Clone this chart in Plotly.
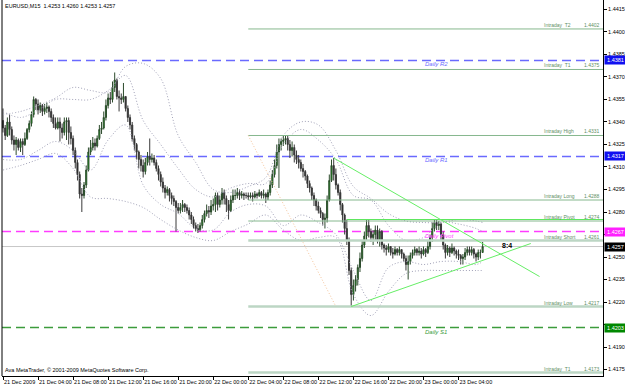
import plotly.graph_objects as go
import pandas as pd

# ---------------- data ----------------
title_text = "EURUSD,M15  1.4253 1.4260 1.4253 1.4257"
copyright_text = "Ava MetaTrader, © 2001-2009 MetaQuotes Software Corp."

first_bar_time = "2009-12-21 00:00"
first_open = 1.4341

closes = [
    1.4336, 1.4331, 1.4340, 1.4335, 1.4328, 1.4325, 1.4328, 1.4323, 1.4327, 1.4325,
    1.4329, 1.4335, 1.4339, 1.4345, 1.4355, 1.4352, 1.4348, 1.4351, 1.4347, 1.4349,
    1.4350, 1.4347, 1.4343, 1.4339, 1.4336, 1.4340, 1.4336, 1.4333, 1.4340, 1.4341,
    1.4333, 1.4329, 1.4321, 1.4313, 1.4305, 1.4292, 1.4291, 1.4298, 1.4308, 1.4320,
    1.4323, 1.4326, 1.4324, 1.4329, 1.4335, 1.4336, 1.4343, 1.4351, 1.4356, 1.4355,
    1.4363, 1.4368, 1.4357, 1.4356, 1.4355, 1.4357, 1.4349, 1.4343, 1.4338, 1.4329,
    1.4325, 1.4320, 1.4315, 1.4311, 1.4307, 1.4313, 1.4317, 1.4315, 1.4316, 1.4313,
    1.4309, 1.4305, 1.4300, 1.4296, 1.4293, 1.4295, 1.4291, 1.4289, 1.4287, 1.4283,
    1.4281, 1.4283, 1.4285, 1.4283, 1.4281, 1.4278, 1.4275, 1.4271, 1.4269, 1.4268,
    1.4271, 1.4275, 1.4279, 1.4281, 1.4280, 1.4284, 1.4285, 1.4291, 1.4285, 1.4288,
    1.4293, 1.4289, 1.4285, 1.4281, 1.4288, 1.4291, 1.4291, 1.4293, 1.4291, 1.4292,
    1.4291, 1.4291, 1.4290, 1.4291, 1.4290, 1.4292, 1.4291, 1.4293, 1.4291, 1.4292,
    1.4290, 1.4293, 1.4298, 1.4305, 1.4311, 1.4320, 1.4325, 1.4327, 1.4328, 1.4329,
    1.4325, 1.4321, 1.4323, 1.4318, 1.4315, 1.4313, 1.4309, 1.4307, 1.4304, 1.4299,
    1.4296, 1.4291, 1.4288, 1.4284, 1.4281, 1.4279, 1.4275, 1.4276, 1.4288, 1.4301,
    1.4311, 1.4305, 1.4298, 1.4293, 1.4285, 1.4278, 1.4269, 1.4261, 1.4241, 1.4225,
    1.4231, 1.4235, 1.4243, 1.4249, 1.4258, 1.4264, 1.4271, 1.4267, 1.4263, 1.4265,
    1.4268, 1.4261, 1.4267, 1.4258, 1.4256, 1.4255, 1.4257, 1.4253, 1.4252, 1.4255,
    1.4253, 1.4255, 1.4252, 1.4249, 1.4245, 1.4247, 1.4251, 1.4253, 1.4255, 1.4253,
    1.4254, 1.4252, 1.4255, 1.4253, 1.4257, 1.4263, 1.4269, 1.4273, 1.4271, 1.4272,
    1.4265, 1.4258, 1.4253, 1.4256, 1.4253, 1.4256, 1.4254, 1.4252, 1.4251, 1.4249,
    1.4250, 1.4253, 1.4255, 1.4253, 1.4255, 1.4252, 1.4250, 1.4253, 1.4253, 1.4257,
]

highs = [
    1.4349, 1.4338, 1.4343, 1.4345, 1.4337, 1.4331, 1.4330, 1.4329, 1.4329, 1.4329,
    1.4333, 1.4336, 1.4341, 1.4347, 1.4357, 1.4356, 1.4355, 1.4353, 1.4352, 1.4352,
    1.4353, 1.4351, 1.4349, 1.4345, 1.4343, 1.4343, 1.4343, 1.4339, 1.4343, 1.4343,
    1.4343, 1.4337, 1.4331, 1.4323, 1.4315, 1.4307, 1.4296, 1.4300, 1.4311, 1.4323,
    1.4328, 1.4330, 1.4329, 1.4331, 1.4338, 1.4340, 1.4347, 1.4355, 1.4359, 1.4360,
    1.4367, 1.4373, 1.4369, 1.4361, 1.4359, 1.4366, 1.4357, 1.4351, 1.4345, 1.4340,
    1.4331, 1.4326, 1.4321, 1.4318, 1.4315, 1.4316, 1.4320, 1.4329, 1.4319, 1.4318,
    1.4315, 1.4311, 1.4307, 1.4303, 1.4298, 1.4297, 1.4296, 1.4293, 1.4291, 1.4288,
    1.4286, 1.4286, 1.4288, 1.4286, 1.4285, 1.4283, 1.4280, 1.4277, 1.4273, 1.4272,
    1.4273, 1.4278, 1.4281, 1.4285, 1.4284, 1.4288, 1.4289, 1.4293, 1.4293, 1.4291,
    1.4296, 1.4295, 1.4291, 1.4288, 1.4291, 1.4295, 1.4295, 1.4296, 1.4295, 1.4294,
    1.4293, 1.4293, 1.4293, 1.4293, 1.4293, 1.4294, 1.4293, 1.4295, 1.4294, 1.4295,
    1.4293, 1.4295, 1.4301, 1.4308, 1.4315, 1.4325, 1.4329, 1.4329, 1.4331, 1.4331,
    1.4331, 1.4328, 1.4327, 1.4325, 1.4321, 1.4318, 1.4315, 1.4312, 1.4308, 1.4305,
    1.4301, 1.4297, 1.4293, 1.4289, 1.4287, 1.4283, 1.4280, 1.4279, 1.4291, 1.4305,
    1.4315, 1.4316, 1.4309, 1.4299, 1.4295, 1.4286, 1.4279, 1.4275, 1.4263, 1.4243,
    1.4235, 1.4238, 1.4245, 1.4253, 1.4261, 1.4267, 1.4275, 1.4275, 1.4269, 1.4268,
    1.4271, 1.4271, 1.4269, 1.4268, 1.4259, 1.4258, 1.4259, 1.4257, 1.4256, 1.4257,
    1.4256, 1.4257, 1.4255, 1.4253, 1.4251, 1.4251, 1.4253, 1.4255, 1.4257, 1.4256,
    1.4257, 1.4256, 1.4257, 1.4256, 1.4261, 1.4265, 1.4273, 1.4275, 1.4275, 1.4274,
    1.4273, 1.4267, 1.4259, 1.4258, 1.4257, 1.4259, 1.4257, 1.4255, 1.4255, 1.4252,
    1.4252, 1.4256, 1.4257, 1.4257, 1.4257, 1.4256, 1.4253, 1.4255, 1.4255, 1.4260,
]

lows = [
    1.4333, 1.4328, 1.4330, 1.4331, 1.4325, 1.4321, 1.4318, 1.4321, 1.4320, 1.4318,
    1.4324, 1.4328, 1.4333, 1.4337, 1.4343, 1.4348, 1.4345, 1.4346, 1.4344, 1.4345,
    1.4346, 1.4343, 1.4340, 1.4336, 1.4335, 1.4335, 1.4327, 1.4329, 1.4331, 1.4328,
    1.4325, 1.4325, 1.4318, 1.4309, 1.4301, 1.4289, 1.4280, 1.4289, 1.4296, 1.4307,
    1.4318, 1.4321, 1.4321, 1.4323, 1.4328, 1.4332, 1.4335, 1.4341, 1.4349, 1.4352,
    1.4353, 1.4360, 1.4355, 1.4347, 1.4352, 1.4353, 1.4347, 1.4340, 1.4335, 1.4327,
    1.4321, 1.4315, 1.4309, 1.4307, 1.4303, 1.4305, 1.4311, 1.4311, 1.4313, 1.4311,
    1.4307, 1.4301, 1.4297, 1.4293, 1.4289, 1.4291, 1.4287, 1.4285, 1.4284, 1.4267,
    1.4279, 1.4279, 1.4280, 1.4280, 1.4279, 1.4275, 1.4272, 1.4269, 1.4267, 1.4266,
    1.4267, 1.4269, 1.4273, 1.4277, 1.4276, 1.4278, 1.4281, 1.4280, 1.4281, 1.4283,
    1.4285, 1.4285, 1.4280, 1.4275, 1.4280, 1.4286, 1.4288, 1.4289, 1.4288, 1.4289,
    1.4288, 1.4289, 1.4288, 1.4289, 1.4287, 1.4289, 1.4289, 1.4290, 1.4289, 1.4289,
    1.4286, 1.4288, 1.4291, 1.4296, 1.4303, 1.4309, 1.4296, 1.4321, 1.4324, 1.4325,
    1.4321, 1.4316, 1.4317, 1.4313, 1.4312, 1.4309, 1.4307, 1.4303, 1.4301, 1.4296,
    1.4293, 1.4288, 1.4284, 1.4281, 1.4279, 1.4276, 1.4271, 1.4269, 1.4273, 1.4287,
    1.4300, 1.4301, 1.4295, 1.4291, 1.4281, 1.4273, 1.4265, 1.4258, 1.4238, 1.4217,
    1.4221, 1.4227, 1.4231, 1.4240, 1.4247, 1.4256, 1.4261, 1.4263, 1.4260, 1.4258,
    1.4261, 1.4259, 1.4257, 1.4255, 1.4253, 1.4251, 1.4253, 1.4251, 1.4249, 1.4251,
    1.4251, 1.4251, 1.4249, 1.4247, 1.4241, 1.4235, 1.4245, 1.4249, 1.4251, 1.4251,
    1.4251, 1.4249, 1.4251, 1.4250, 1.4252, 1.4255, 1.4260, 1.4267, 1.4268, 1.4268,
    1.4261, 1.4255, 1.4249, 1.4251, 1.4250, 1.4252, 1.4251, 1.4249, 1.4248, 1.4245,
    1.4245, 1.4248, 1.4251, 1.4251, 1.4251, 1.4249, 1.4247, 1.4248, 1.4249, 1.4253,
]

# Bollinger-style dotted envelopes, read every 2 hours (last point = last bar)
band_times = [
    "2009-12-21 00:00", "2009-12-21 02:00", "2009-12-21 04:00", "2009-12-21 06:00",
    "2009-12-21 08:00", "2009-12-21 10:00", "2009-12-21 12:00", "2009-12-21 14:00",
    "2009-12-21 16:00", "2009-12-21 18:00", "2009-12-21 20:00", "2009-12-21 22:00",
    "2009-12-22 00:00", "2009-12-22 02:00", "2009-12-22 04:00", "2009-12-22 06:00",
    "2009-12-22 08:00", "2009-12-22 10:00", "2009-12-22 12:00", "2009-12-22 14:00",
    "2009-12-22 16:00", "2009-12-22 18:00", "2009-12-22 20:00", "2009-12-22 22:00",
    "2009-12-23 00:00", "2009-12-23 02:00", "2009-12-23 04:00", "2009-12-23 06:00",
    "2009-12-23 06:45",
]
wide_upper = [1.4345, 1.4347, 1.4351, 1.4356, 1.4363, 1.4361, 1.4360, 1.4377, 1.4379, 1.4369,
              1.4331, 1.4313, 1.4295, 1.4293, 1.4297, 1.4303, 1.4331, 1.4340, 1.4338, 1.4321,
              1.4297, 1.4289, 1.4279, 1.4274, 1.4273, 1.4273, 1.4275, 1.4274, 1.4273]
wide_lower = [1.4308, 1.4311, 1.4315, 1.4319, 1.4309, 1.4290, 1.4289, 1.4287, 1.4283, 1.4275,
              1.4268, 1.4263, 1.4261, 1.4267, 1.4272, 1.4278, 1.4268, 1.4261, 1.4263, 1.4263,
              1.4225, 1.4211, 1.4227, 1.4239, 1.4241, 1.4241, 1.4241, 1.4241, 1.4241]
tight_upper = [1.4347, 1.4343, 1.4348, 1.4355, 1.4355, 1.4355, 1.4361, 1.4371, 1.4341, 1.4325,
               1.4309, 1.4295, 1.4290, 1.4296, 1.4299, 1.4299, 1.4325, 1.4335, 1.4328, 1.4315,
               1.4291, 1.4288, 1.4271, 1.4261, 1.4263, 1.4273, 1.4272, 1.4269, 1.4267]
tight_lower = [1.4315, 1.4315, 1.4321, 1.4327, 1.4321, 1.4308, 1.4328, 1.4338, 1.4298, 1.4285,
               1.4279, 1.4269, 1.4268, 1.4280, 1.4285, 1.4284, 1.4271, 1.4278, 1.4273, 1.4265,
               1.4241, 1.4221, 1.4243, 1.4247, 1.4245, 1.4247, 1.4247, 1.4245, 1.4247]

# Daily pivot levels
daily_names = ["Daily R2", "Daily R1", "Daily Pivot", "Daily S1"]
daily_values = [1.4381, 1.4317, 1.4267, 1.4203]
daily_colors = ["#6a6aff", "#6a6aff", "#ff3cff", "#3c9c3c"]
daily_box_colors = ["#1010f0", "#1010f0", "#ff20ff", "#008800"]
daily_label_time = "2009-12-23 00:00"

# Intraday levels
intraday_names = ["Intraday  T2", "Intraday  T1", "Intraday High", "Intraday Long",
                  "Intraday Pivot", "Intraday Short", "Intraday Low", "Intraday  T1"]
intraday_values = [1.4402, 1.4375, 1.4331, 1.4288, 1.4274, 1.4261, 1.4217, 1.4173]
intraday_thick = [False, False, False, False, False, True, True, True]
intraday_start = "2009-12-22 04:00"
intraday_label_time = "2009-12-23 13:30"

bid_price = 1.4257

# Drawn objects (time, price anchors)
upper_trend_t = ["2009-12-22 13:45", "2009-12-23 13:15"]
upper_trend_p = [1.4316, 1.4237]
lower_trend_t = ["2009-12-22 15:45", "2009-12-23 12:15"]
lower_trend_p = [1.4217, 1.4259]
flat_line_t = ["2009-12-22 15:15", "2009-12-23 20:30"]
flat_line_p = [1.4275, 1.4275]
fib_line_t = ["2009-12-22 04:00", "2009-12-22 14:00"]
fib_line_p = [1.4331, 1.4217]
mark_text = "8:4"
mark_time = "2009-12-23 09:30"
mark_price = 1.4258

y_ticks = [1.4175, 1.4190, 1.4205, 1.4220, 1.4235, 1.4250, 1.4265, 1.4280, 1.4295,
           1.4310, 1.4325, 1.4340, 1.4355, 1.4370, 1.4385, 1.4400, 1.4415]
y_ticks_under_boxes = [1.4205, 1.4265]
x_tick_times = ["2009-12-21 00:00", "2009-12-21 04:00", "2009-12-21 08:00", "2009-12-21 12:00",
                "2009-12-21 16:00", "2009-12-21 20:00", "2009-12-22 00:00", "2009-12-22 04:00",
                "2009-12-22 08:00", "2009-12-22 12:00", "2009-12-22 16:00", "2009-12-22 20:00",
                "2009-12-23 00:00", "2009-12-23 04:00"]
x_tick_labels = ["21 Dec 2009", "21 Dec 04:00", "21 Dec 08:00", "21 Dec 12:00", "21 Dec 16:00",
                 "21 Dec 20:00", "22 Dec 00:00", "22 Dec 04:00", "22 Dec 08:00", "22 Dec 12:00",
                 "22 Dec 16:00", "22 Dec 20:00", "23 Dec 00:00", "23 Dec 04:00"]

x_range = ["2009-12-20 23:53:09", "2009-12-23 20:29:33"]
y_range = [1.41707, 1.44213]

# ---------------- figure ----------------
times = pd.date_range(first_bar_time, periods=len(closes), freq="15min")
opens = [first_open] + closes[:-1]

FONT = "Liberation Sans"
fig = go.Figure()

# bid line
fig.add_shape(type="line", xref="paper", x0=0, x1=1, y0=bid_price, y1=bid_price,
              line=dict(color="#c8c8c8", width=1), layer="below")

# daily lines
for name, v, c in zip(daily_names, daily_values, daily_colors):
    fig.add_shape(type="line", xref="paper", x0=0, x1=1, y0=v, y1=v,
                  line=dict(color=c, width=1.5, dash="9px,5px"), layer="below")

# bands
for band in (wide_upper, wide_lower, tight_upper, tight_lower):
    fig.add_trace(go.Scatter(x=band_times, y=band, mode="lines", line_shape="spline",
                             line=dict(color="#a2a2b8", width=1, dash="1px,2px"),
                             hoverinfo="skip"))

# intraday lines
for v, thick in zip(intraday_values, intraday_thick):
    fig.add_trace(go.Scatter(x=[intraday_start, x_range[1]], y=[v, v], mode="lines",
                             line=dict(color="#bcd6c4" if thick else "#86b88e",
                                       width=2.5 if thick else 1),
                             hoverinfo="skip"))

# drawn objects
fig.add_trace(go.Scatter(x=fib_line_t, y=fib_line_p, mode="lines",
                         line=dict(color="#f5c49a", width=1, dash="1px,2px"), hoverinfo="skip"))
fig.add_trace(go.Scatter(x=flat_line_t, y=flat_line_p, mode="lines",
                         line=dict(color="#5ee65e", width=1), hoverinfo="skip"))

# candles
fig.add_trace(go.Candlestick(
    x=times, open=opens, high=highs, low=lows, close=closes,
    increasing=dict(fillcolor="#14b414", line=dict(color="#2c4a2c", width=1)),
    decreasing=dict(fillcolor="#101010", line=dict(color="#3a3a3a", width=1)),
    whiskerwidth=0, hoverinfo="skip"))

fig.add_trace(go.Scatter(x=upper_trend_t, y=upper_trend_p, mode="lines",
                         line=dict(color="#66ee66", width=1), hoverinfo="skip"))
fig.add_trace(go.Scatter(x=lower_trend_t, y=lower_trend_p, mode="lines",
                         line=dict(color="#66ee66", width=1), hoverinfo="skip"))

ann = []
# daily labels + axis boxes
for name, v, c, bc in zip(daily_names, daily_values, daily_colors, daily_box_colors):
    ann.append(dict(x=daily_label_time, y=v, xref="x", yref="y", text="<i>" + name + "</i>",
                    showarrow=False, xanchor="left", yanchor="top", yshift=1,
                    font=dict(family=FONT, size=6, color=c)))
    ann.append(dict(x=1, y=v, xref="paper", yref="y", text="%.4f" % v, showarrow=False,
                    xanchor="left", yanchor="middle", xshift=1, bgcolor=bc, borderpad=0,
                    width=21, height=8, font=dict(family=FONT, size=5.5, color="white")))
ann.append(dict(x=1, y=bid_price, xref="paper", yref="y", text="%.4f" % bid_price,
                showarrow=False, xanchor="left", yanchor="middle", xshift=1, bgcolor="#000000",
                borderpad=0, width=21, height=8, font=dict(family=FONT, size=5.5, color="white")))

# intraday labels
for name, v in zip(intraday_names, intraday_values):
    ann.append(dict(x=intraday_label_time, y=v, xref="x", yref="y", text=name, showarrow=False,
                    xanchor="left", yanchor="bottom", yshift=-1,
                    font=dict(family=FONT, size=5, color="#5f8f65")))
    ann.append(dict(x=1, y=v, xref="paper", yref="y", text="%.4f" % v, showarrow=False,
                    xanchor="right", yanchor="bottom", xshift=-1, yshift=-1,
                    font=dict(family=FONT, size=5, color="#5f8f65")))

ann.append(dict(x=mark_time, y=mark_price, xref="x", yref="y", text="<b>" + mark_text + "</b>",
                showarrow=False, xanchor="center", yanchor="middle",
                font=dict(family=FONT, size=7, color="#000000")))
ann.append(dict(x=0, y=1, xref="paper", yref="paper", text=title_text, showarrow=False,
                xanchor="left", yanchor="top", xshift=1, yshift=-1,
                font=dict(family=FONT, size=5.5, color="#000000")))
ann.append(dict(x=0, y=0, xref="paper", yref="paper", text=copyright_text, showarrow=False,
                xanchor="left", yanchor="bottom", xshift=1, yshift=1,
                font=dict(family=FONT, size=5.5, color="#000000")))

# left frame
fig.add_shape(type="line", xref="paper", yref="paper", x0=0, x1=0, y0=0, y1=1,
              line=dict(color="#000000", width=1))

y_text = ["" if t in y_ticks_under_boxes else "%.4f" % t for t in y_ticks]

fig.update_layout(
    width=625, height=387, margin=dict(l=2, r=22, t=0, b=11),
    paper_bgcolor="white", plot_bgcolor="white", showlegend=False,
    font=dict(family=FONT, size=5, color="#000000"),
    annotations=ann,
    xaxis=dict(type="date", range=x_range, rangeslider=dict(visible=False),
               tickvals=x_tick_times, ticktext=x_tick_labels, ticks="outside", ticklen=3,
               tickcolor="#000000", tickfont=dict(family=FONT, size=5.5), tickangle=0,
               ticklabelposition="outside right", automargin=False,
               showgrid=False, zeroline=False, showline=True, linecolor="#000000", linewidth=1),
    yaxis=dict(range=y_range, side="right", tickvals=y_ticks, ticktext=y_text,
               ticks="outside", ticklen=3, automargin=False,
               tickcolor="#000000", tickfont=dict(family=FONT, size=5.5),
               showgrid=False, zeroline=False, showline=True, linecolor="#000000", linewidth=1),
)

fig.write_html("out.html")
